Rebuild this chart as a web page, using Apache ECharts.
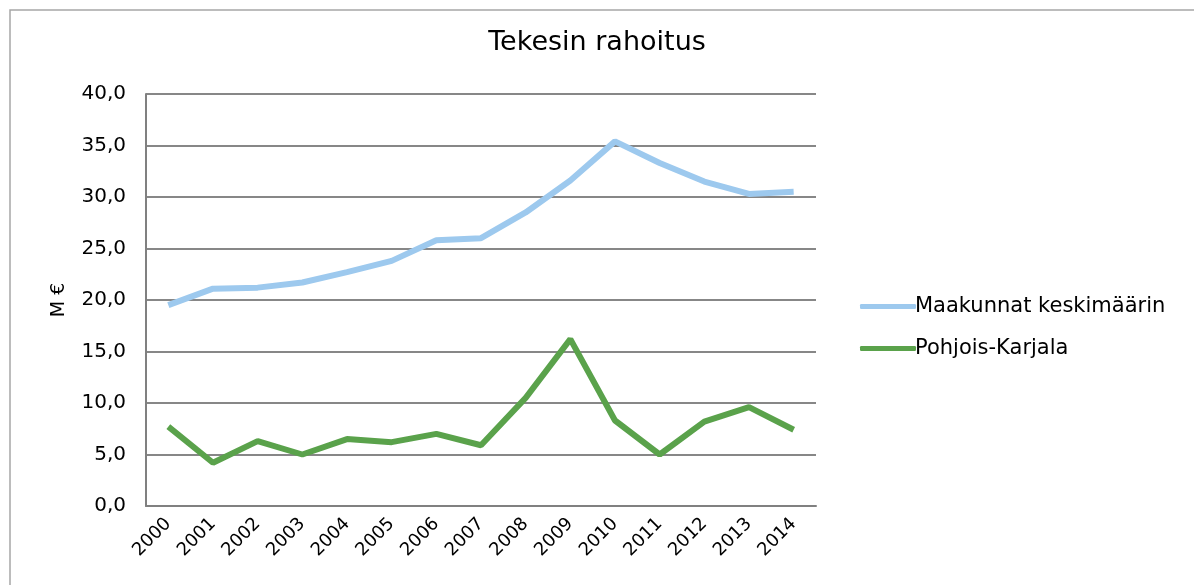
<!DOCTYPE html>
<html>
<head>
<meta charset="utf-8">
<script src="https://cdn.jsdelivr.net/npm/echarts@6/dist/echarts.min.js"></script>
<style>html,body{margin:0;padding:0;background:#fff;}#c{width:1194px;height:585px;}</style>
</head>
<body>
<div id="c"></div>
<script>
const years = ['2000','2001','2002','2003','2004','2005','2006','2007','2008','2009','2010','2011','2012','2013','2014'];
const maakunnat = [19.5, 21.1, 21.2, 21.7, 22.7, 23.8, 25.8, 26.0, 28.5, 31.6, 35.4, 33.3, 31.5, 30.3, 30.5];
const pohjoisKarjala = [7.7, 4.2, 6.3, 5.0, 6.5, 6.2, 7.0, 5.9, 10.5, 16.2, 8.3, 5.0, 8.2, 9.6, 7.4];
const seriesNames = ['Maakunnat keskimäärin', 'Pohjois-Karjala'];

const chart = echarts.init(document.getElementById('c'));
const font = '"DejaVu Sans", Verdana, sans-serif';
chart.setOption({
  animation: false,
  graphic: [{
    type: 'rect', shape: {x: 10, y: 10, width: 1200, height: 600},
    style: {fill: 'none', stroke: '#a6a6a6', lineWidth: 1.5}, z: -1
  }],
  title: {
    text: 'Tekesin rahoitus', left: 'center', top: 24, padding: [5, 0, 5, 12],
    textStyle: {fontFamily: font, fontSize: 27, fontWeight: 'normal', color: '#000'}
  },
  legend: {
    orient: 'vertical', left: 855, top: 291, itemGap: 21,
    itemWidth: 56, itemHeight: 5,
    icon: 'roundRect',
    textStyle: {fontFamily: font, fontSize: 21, color: '#000', padding: [0,0,0,-6]},
    data: seriesNames
  },
  grid: {left: 146, right: 378, top: 94, bottom: 79, containLabel: false},
  xAxis: {
    type: 'category', data: years, boundaryGap: true,
    axisLine: {show: true, lineStyle: {color: '#808080', width: 2}},
    axisTick: {show: false},
    axisLabel: {rotate: 45, fontFamily: font, fontSize: 18, color: '#000', margin: 15}
  },
  yAxis: {
    type: 'value', min: 0, max: 40, interval: 5,
    name: 'M €', nameLocation: 'middle', nameGap: 77, nameRotate: 90,
    nameTextStyle: {fontFamily: font, fontSize: 19, color: '#000'},
    axisLine: {show: true, lineStyle: {color: '#808080', width: 2}},
    axisTick: {show: false},
    splitLine: {lineStyle: {color: '#878787', width: 2}},
    axisLabel: {fontFamily: font, fontSize: 20, color: '#000', margin: 20,
      formatter: v => v.toFixed(1).replace('.', ',')}
  },
  series: [
    {name: seriesNames[0], type: 'line', data: maakunnat, symbol: 'none',
      lineStyle: {color: '#9dc9ee', width: 6}, itemStyle: {color: '#9dc9ee'}},
    {name: seriesNames[1], type: 'line', data: pohjoisKarjala, symbol: 'none',
      lineStyle: {color: '#5aa24b', width: 6}, itemStyle: {color: '#5aa24b'}}
  ]
});
</script>
</body>
</html>
